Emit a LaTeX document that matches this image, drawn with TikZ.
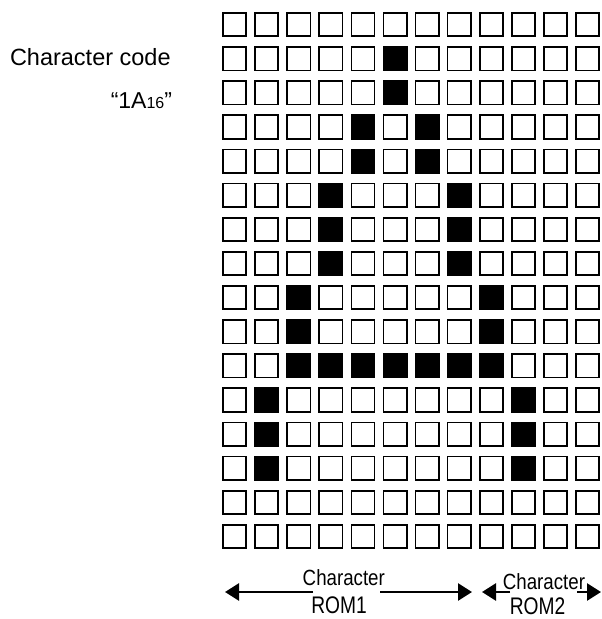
\documentclass[tikz,border=0pt]{standalone}
\usepackage{fontspec}
\usepackage{graphicx}
\setmainfont{Liberation Sans}
\usetikzlibrary{arrows.meta}
\begin{document}
\begin{tikzpicture}[x=1pt,y=-1pt,
  cell/.style={draw=black, line width=1.7pt, minimum width=23.2pt, minimum height=23.4pt, inner sep=0pt, outer sep=0pt},
  oncell/.style={cell, fill=black},
  txt/.style={inner sep=0pt, outer sep=0pt, anchor=base},
  conn/.style={line width=2.6pt, -{Triangle[length=14pt,width=17pt]}}
]
\useasboundingbox (0,0) rectangle (602,619);
% grid
\foreach \r in {0,...,15}{
  \foreach \c in {0,...,11}{
    \node[cell] (c-\r-\c) at ({234.6+32.09*\c},{24.6+34.13*\r}) {};
  }
}
% black cells
\foreach \r/\c in {1/5,2/5,3/4,3/6,4/4,4/6,5/3,5/7,6/3,6/7,7/3,7/7,8/2,8/8,9/2,9/8,
  10/2,10/3,10/4,10/5,10/6,10/7,10/8,11/1,11/9,12/1,12/9,13/1,13/9}{
  \node[oncell] (b-\r-\c) at (c-\r-\c) {};
}
% left labels
\node[txt, anchor=base west, font=\fontsize{23.5}{23.5}\selectfont] (code) at (10,65.5) {Character code};
\node[txt, anchor=base east, font=\fontsize{23}{23}\selectfont] (hex) at (172,108.5) {“1A{\fontsize{16}{16}\selectfont 16}”};
% bottom labels
\node[txt, font=\fontsize{22}{22}\selectfont] (ch1) at (343.8,585) {\scalebox{0.85}[1]{Character}};
\node[txt, font=\fontsize{24}{24}\selectfont] (rom1) at (339,613) {\scalebox{0.8}[1]{ROM1}};
\node[txt, font=\fontsize{22}{22}\selectfont] (ch2) at (544,589) {\scalebox{0.85}[1]{Character}};
\node[txt, font=\fontsize{24}{24}\selectfont] (rom2) at (537.5,614) {\scalebox{0.8}[1]{ROM2}};
% arrows
\coordinate (a1l) at (313,592);
\coordinate (a1r) at (380,592);
\coordinate (t1l) at (225,592);
\coordinate (t1r) at (472,592);
\coordinate (a2l) at (510,592);
\coordinate (a2r) at (577,592);
\coordinate (t2l) at (482,592);
\coordinate (t2r) at (601,592);
\draw[conn] (a1l) -- (t1l);
\draw[conn] (a1r) -- (t1r);
\draw[conn] (a2l) -- (t2l);
\draw[conn] (a2r) -- (t2r);
\end{tikzpicture}
\end{document}
